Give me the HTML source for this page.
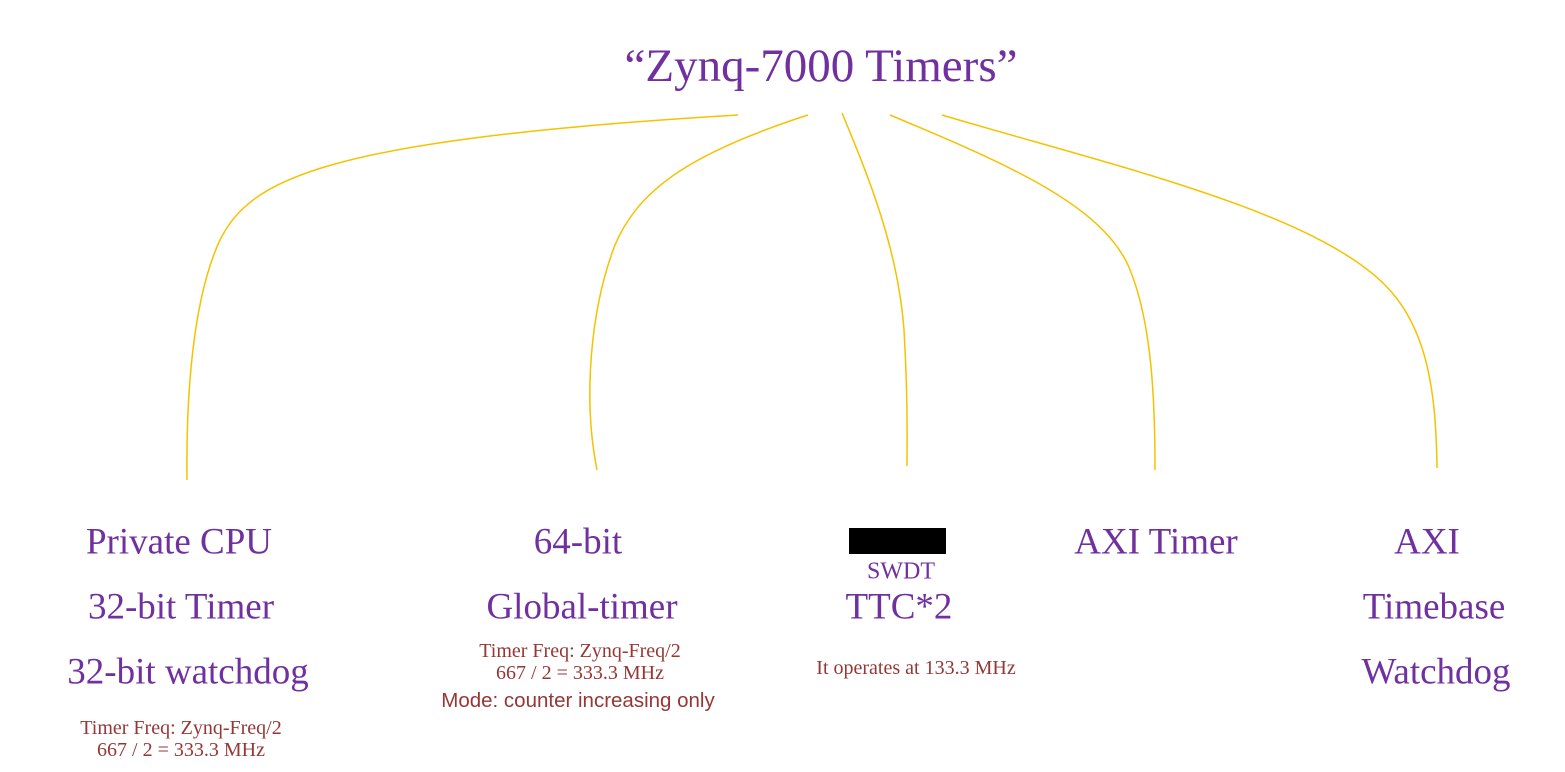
<!DOCTYPE html>
<html><head><meta charset="utf-8"><style>
body{margin:0;width:1565px;height:772px;background:#fff;position:relative;overflow:hidden}
.t{position:absolute;font-family:"Liberation Serif",serif;color:#7030A0;white-space:nowrap;transform:translate(-50%,-50%)}
.big{font-size:37px}
.s{position:absolute;font-family:"Liberation Serif",serif;color:#953735;font-size:20px;white-space:nowrap;transform:translateX(-50%);text-align:center;line-height:22px}
</style></head><body>
<svg width="1565" height="772" style="position:absolute;left:0;top:0">
<g fill="none" stroke="#F5C200" stroke-width="1.5">
<path d="M738,115 C 320,140 250,180 220,240 C 192,300 186,400 187,480"/>
<path d="M808,115 C 700,150 640,185 615,245 C 590,310 583,400 597,470"/>
<path d="M842,113 C 870,180 898,250 904,330 C 908,400 907,440 907,466"/>
<path d="M890,115 C 1010,165 1100,205 1128,265 C 1152,320 1155,400 1155,470"/>
<path d="M942,115 C 1110,165 1310,210 1385,285 C 1430,330 1436,400 1437,468"/>
</g>
<rect x="849" y="528" width="97" height="26" fill="#000"/>
</svg>
<div class="t" style="left:821px;top:66px;font-size:47px">“Zynq-7000 Timers”</div>

<div class="t big" style="left:179px;top:542px">Private CPU</div>
<div class="t big" style="left:181px;top:607px">32-bit Timer</div>
<div class="t big" style="left:188px;top:672px">32-bit watchdog</div>
<div class="s" style="left:181px;top:717px">Timer Freq: Zynq-Freq/2<br>667 / 2 = 333.3 MHz</div>

<div class="t big" style="left:578px;top:542px">64-bit</div>
<div class="t big" style="left:582px;top:607px">Global-timer</div>
<div class="s" style="left:580px;top:640px">Timer Freq: Zynq-Freq/2<br>667 / 2 = 333.3 MHz</div>
<div class="s" style="left:578px;top:690px;font-family:'Liberation Sans',sans-serif;font-size:20.5px">Mode: counter increasing only</div>

<div class="t" style="left:901px;top:572px;font-size:24px">SWDT</div>
<div class="t big" style="left:899px;top:607px">TTC*2</div>
<div class="s" style="left:916px;top:657px">It operates at 133.3 MHz</div>

<div class="t big" style="left:1156px;top:542px">AXI Timer</div>

<div class="t big" style="left:1427px;top:542px">AXI</div>
<div class="t big" style="left:1434px;top:607px">Timebase</div>
<div class="t big" style="left:1436px;top:672px">Watchdog</div>
</body></html>
